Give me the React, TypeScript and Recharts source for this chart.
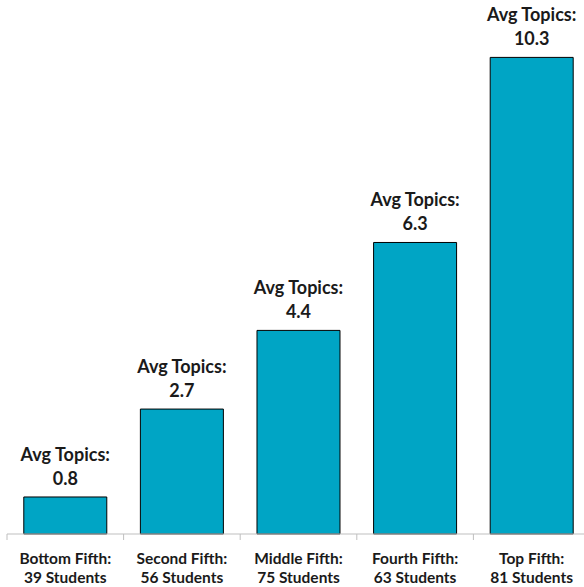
import { BarChart, Bar, XAxis, YAxis, LabelList } from "recharts"

const groups = ["Bottom Fifth:", "Second Fifth:", "Middle Fifth:", "Fourth Fifth:", "Top Fifth:"]
const students = [39, 56, 75, 63, 81]
const avgTopics = [0.8, 2.7, 4.4, 6.3, 10.3]

const data = groups.map((g, i) => ({
  group: g,
  students: students[i],
  avg: avgTopics[i],
}))

const CHART_W = 590
const CHART_H = 587
const LEFT = 7
const RIGHT = 0
const band = (CHART_W - LEFT - RIGHT) / groups.length
const font = "Lato, 'Open Sans', sans-serif"
const textColor = "#1a1a1a"

function GroupTick(props: any) {
  const { x, payload, index } = props
  const d = data[index] || data.find((r) => r.group === payload.value)
  const ty = 534
  return (
    <g>
      <line x1={x - band / 2} y1={ty} x2={x - band / 2} y2={ty + 6} stroke="#bfbfbf" />
      {index === groups.length - 1 && (
        <line x1={x + band / 2} y1={ty} x2={x + band / 2} y2={ty + 6} stroke="#bfbfbf" />
      )}
      <text x={x} y={ty + 30} textAnchor="middle" fontFamily={font} fontWeight={700} fontSize={15.5} fill={textColor}>
        {payload.value}
      </text>
      <text x={x} y={ty + 49} textAnchor="middle" fontFamily={font} fontWeight={700} fontSize={15.5} fill={textColor}>
        {d ? `${d.students} Students` : ""}
      </text>
    </g>
  )
}

function AvgLabel(props: any) {
  const { x, y, width, value } = props
  const cx = x + width / 2
  return (
    <g>
      <text x={cx} y={y - 36} textAnchor="middle" fontFamily={font} fontWeight={700} fontSize={18} fill={textColor}>
        Avg Topics:
      </text>
      <text x={cx} y={y - 12} textAnchor="middle" fontFamily={font} fontWeight={700} fontSize={18} fill={textColor}>
        {value}
      </text>
    </g>
  )
}

export default function App() {
  return (
    <div style={{ position: "absolute", left: 0, top: 0, width: 584, height: 587, overflow: "hidden", background: "#fff" }}>
      <BarChart
        width={CHART_W}
        height={CHART_H}
        data={data}
        margin={{ top: 25, right: RIGHT, left: LEFT, bottom: 0 }}
        barCategoryGap="14.4%"
      >
        <XAxis
          dataKey="group"
          height={53}
          axisLine={{ stroke: "#bfbfbf" }}
          tickLine={false}
          tick={<GroupTick />}
          interval={0}
        />
        <YAxis hide domain={[0, 11]} />
        <Bar dataKey="avg" fill="#00A5C5" stroke="#000" strokeWidth={1} isAnimationActive={false}>
          <LabelList dataKey="avg" content={<AvgLabel />} />
        </Bar>
      </BarChart>
    </div>
  )
}
